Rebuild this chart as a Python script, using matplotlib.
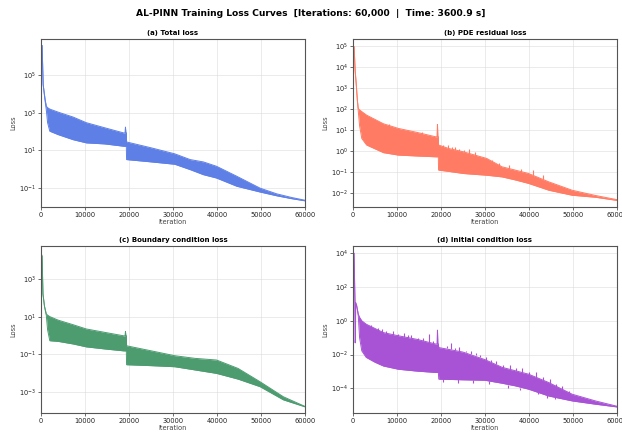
import numpy as np
import matplotlib
matplotlib.use("Agg")
import matplotlib.pyplot as plt
from matplotlib.ticker import NullLocator, FixedLocator

# ---------------------------------------------------------------------------
# Loss history envelopes (iteration, upper / lower bound of the noisy band)
# ---------------------------------------------------------------------------
total_it = [0, 250, 500, 900, 1200, 1500, 2000, 3900, 7300, 10300, 14500, 18800,
            19100, 19200, 19300, 19400, 19450, 25100, 30400, 33900, 36900, 39900,
            44500, 49800, 53600, 57000, 60000]
total_hi = [1.5e6, 4.0e6, 3.2e4, 6.0e3, 2.3e3, 1.9e3, 1.6e3, 1.1e3, 6.0e2, 3.0e2,
            1.6e2, 8.5e1, 8.5e1, 1.75e2, 8.5e1, 8.5e1, 2.8e1, 1.35e1, 6.5e0,
            3.2e0, 2.4e0, 1.4e0, 4.1e-1, 9.5e-2, 4.7e-2, 3.0e-2, 2.15e-2]
total_lo = [1.5e6, 4.0e6, 3.2e4, 5.0e3, 1.5e3, 3.0e2, 1.05e2, 6.9e1, 3.7e1, 2.5e1,
            2.2e1, 1.65e1, 1.65e1, 1.65e1, 1.65e1, 1.65e1, 3.2e0, 2.4e0, 1.8e0,
            9.3e-1, 5.0e-1, 3.3e-1, 1.2e-1, 5.9e-2, 3.7e-2, 2.6e-2, 2.0e-2]

pde_it = [0, 250, 500, 700, 1000, 1200, 1500, 2000, 3100, 6900, 10300, 14500,
          18800, 19100, 19200, 19300, 19400, 19450, 21700, 25100, 30400, 33900,
          36900, 39900, 44500, 49800, 55100, 60000]
pde_hi = [3.0e4, 9.0e4, 6.3e3, 1.95e3, 2.5e2, 1.07e2, 9.0e1, 7.5e1, 5.1e1, 2.0e1,
          1.2e1, 7.8e0, 4.8e0, 4.8e0, 1.85e1, 4.8e0, 4.8e0, 1.95e0, 1.35e0,
          9.3e-1, 4.5e-1, 1.8e-1, 1.26e-1, 8.7e-2, 3.5e-2, 1.4e-2, 7.9e-3, 5.0e-3]
pde_lo = [3.0e4, 9.0e4, 6.3e3, 1.95e3, 2.5e2, 8.0e1, 1.6e1, 4.0e0, 1.95e0, 8.5e-1,
          6.5e-1, 5.9e-1, 5.4e-1, 5.4e-1, 5.4e-1, 5.4e-1, 5.4e-1, 1.26e-1, 1.1e-1,
          8.7e-2, 7.2e-2, 6.0e-2, 4.3e-2, 2.95e-2, 1.4e-2, 8.1e-3, 6.5e-3, 4.6e-3]
pde_spike_it = [8200, 15600, 20500, 21600, 22600, 23300, 24200, 25300, 26400,
                27800, 29500, 31600, 33200, 35400, 38300, 41000, 43200]
pde_spike_base = [1.4e1, 6.5e0, 1.5e0, 1.3e0, 1.2e0, 1.1e0, 1.0e0, 9.0e-1,
                  7.5e-1, 6.0e-1, 4.3e-1, 3.0e-1, 2.0e-1, 1.4e-1, 1.0e-1,
                  7.0e-2, 5.0e-2]
pde_spike_top = [1.9e1, 8.5e0, 2.0e0, 1.9e0, 1.5e0, 1.6e0, 1.3e0, 1.1e0, 1.2e0,
                 9.0e-1, 5.4e-1, 4.0e-1, 2.8e-1, 2.2e-1, 1.5e-1, 1.26e-1, 7.0e-2]

bc_it = [0, 250, 450, 800, 1200, 1500, 2000, 3900, 7300, 10300, 14500, 18800,
         19100, 19200, 19300, 19400, 19450, 25100, 30400, 35000, 39900, 44800,
         49800, 55100, 60000]
bc_hi = [2.5e4, 1.6e4, 1.6e2, 3.5e1, 1.38e1, 1.2e1, 1.0e1, 6.5e0, 3.7e0, 2.2e0,
         1.45e0, 9.5e-1, 9.5e-1, 1.62e0, 9.5e-1, 9.5e-1, 2.8e-1, 1.5e-1, 8.3e-2,
         6.0e-2, 4.9e-2, 1.74e-2, 3.4e-3, 5.4e-4, 1.66e-4]
bc_lo = [2.5e4, 1.6e4, 1.6e2, 3.5e1, 1.2e1, 2.0e0, 5.2e-1, 4.8e-1, 3.5e-1, 2.45e-1,
         1.9e-1, 1.5e-1, 1.5e-1, 1.5e-1, 1.5e-1, 1.5e-1, 2.75e-2, 2.45e-2,
         2.15e-2, 1.45e-2, 9.5e-3, 4.7e-3, 1.86e-3, 3.7e-4, 1.58e-4]

ic_it = [0, 230, 350, 450, 520, 560, 600, 840, 1200, 1500, 2000, 3000, 5000, 6900,
         10300, 14500, 18800, 19100, 19200, 19300, 19400, 19500, 25000, 30000,
         33900, 36900, 39900, 44500, 49800, 55100, 60000]
ic_hi = [8.0e3, 1.0e4, 3.2e2, 1.55e1, 5.0e-2, 8.0e-2, 1.2e1, 7.8e0, 2.5e0, 1.6e0,
         1.0e0, 6.3e-1, 3.5e-1, 2.0e-1, 1.3e-1, 8.0e-2, 4.2e-2, 4.2e-2, 2.8e-1,
         4.2e-2, 4.2e-2, 2.6e-2, 1.4e-2, 5.0e-3, 1.75e-3, 1.1e-3, 6.9e-4, 2.2e-4,
         4.5e-5, 1.8e-5, 8.7e-6]
ic_lo = [8.0e3, 1.0e4, 3.2e2, 1.55e1, 5.0e-2, 8.0e-2, 1.2e1, 7.8e0, 2.0e0, 1.0e-1,
         1.66e-2, 6.8e-3, 3.5e-3, 2.1e-3, 1.35e-3, 1.05e-3, 8.7e-4, 8.7e-4, 8.7e-4,
         8.7e-4, 8.7e-4, 3.5e-4, 3.2e-4, 3.0e-4, 2.0e-4, 1.4e-4, 8.9e-5, 3.5e-5,
         1.8e-5, 1.15e-5, 7.9e-6]
# isolated upward bursts above the band
ic_spike_it = [4200, 5600, 6500, 7600, 9000, 10200, 11500, 12400, 13300, 14800,
               16000, 17300, 18200, 21300, 22300, 23100, 24000, 25800, 26900,
               28000, 28800, 30200, 31400, 32500, 34000, 35600, 37000, 38500,
               40100, 41700, 43300, 44800, 46200, 47500, 49000]
ic_spike_base = [4.0e-1, 2.5e-1, 1.8e-1, 1.6e-1, 1.4e-1, 1.2e-1, 1.1e-1, 1.0e-1,
                 9.0e-2, 7.5e-2, 6.5e-2, 5.5e-2, 4.6e-2, 2.3e-2, 2.1e-2, 1.9e-2,
                 1.7e-2, 1.4e-2, 1.1e-2, 9.0e-3, 7.0e-3, 4.8e-3, 3.6e-3, 2.6e-3,
                 1.7e-3, 1.4e-3, 1.1e-3, 9.0e-4, 6.5e-4, 5.0e-4, 3.2e-4, 2.0e-4,
                 1.2e-4, 8.0e-5, 5.0e-5]
ic_spike_top = [5.5e-1, 3.5e-1, 3.2e-1, 2.6e-1, 2.5e-1, 1.6e-1, 1.8e-1, 1.4e-1,
                1.5e-1, 1.0e-1, 1.0e-1, 1.6e-1, 6.5e-2, 3.3e-2, 5.0e-2, 2.6e-2,
                3.0e-2, 1.66e-2, 1.6e-2, 1.3e-2, 1.0e-2, 6.8e-3, 5.0e-3, 4.0e-3,
                2.3e-3, 2.4e-3, 1.5e-3, 1.6e-3, 9.0e-4, 9.0e-4, 4.5e-4, 3.5e-4,
                1.7e-4, 1.3e-4, 6.5e-5]
# downward dips below the band
ic_dip_it = [20500, 23800, 27300, 31000, 35200, 38000, 42100, 44100, 46000]
ic_dip_base = [3.5e-4, 3.4e-4, 3.1e-4, 2.8e-4, 1.6e-4, 1.1e-4, 6.0e-5, 3.8e-5,
               3.0e-5]
ic_dip_bottom = [2.3e-4, 2.2e-4, 2.1e-4, 1.7e-4, 1.1e-4, 7.5e-5, 4.5e-5, 2.8e-5,
                 2.4e-5]

x_ticks = [0, 10000, 20000, 30000, 40000, 50000, 60000]

panels = [
    dict(title="(a) Total loss", it=total_it, hi=total_hi, lo=total_lo,
         color="#5D7FE6", ylim=(10 ** -2.03, 10 ** 6.95),
         yticks=[1e-1, 1e1, 1e3, 1e5], spikes=[],
         rect=[0.0659, 0.5208, 0.4244, 0.3889]),
    dict(title="(b) PDE residual loss", it=pde_it, hi=pde_hi, lo=pde_lo,
         color="#FF7B64", ylim=(10 ** -2.65, 10 ** 5.32),
         yticks=[1e-2, 1e-1, 1e0, 1e1, 1e2, 1e3, 1e4, 1e5],
         spikes=[(pde_spike_it, pde_spike_base, pde_spike_top)],
         rect=[0.5675, 0.5208, 0.4244, 0.3889]),
    dict(title="(c) Boundary condition loss", it=bc_it, hi=bc_hi, lo=bc_lo,
         color="#4D9C70", ylim=(10 ** -4.13, 10 ** 4.76),
         yticks=[1e-3, 1e-1, 1e1, 1e3], spikes=[],
         rect=[0.0659, 0.0440, 0.4244, 0.3866]),
    dict(title="(d) Initial condition loss", it=ic_it, hi=ic_hi, lo=ic_lo,
         color="#A853D5", ylim=(10 ** -5.46, 10 ** 4.43),
         yticks=[1e-4, 1e-2, 1e0, 1e2, 1e4],
         spikes=[(ic_spike_it, ic_spike_base, ic_spike_top),
                 (ic_dip_it, ic_dip_bottom, ic_dip_base)],
         rect=[0.5675, 0.0440, 0.4244, 0.3866]),
]

fig = plt.figure(figsize=(6.22, 4.32), dpi=100)
fig.text(0.5, 0.969,
         "AL-PINN Training Loss Curves  [Iterations: 60,000  |  Time: 3600.9 s]",
         ha="center", va="center", fontsize=6.6, fontweight="bold")

for p in panels:
    ax = fig.add_axes(p["rect"])
    ax.set_yscale("log")
    ax.fill_between(p["it"], p["lo"], p["hi"], color=p["color"], linewidth=0)
    ax.plot(p["it"], p["hi"], color=p["color"], lw=0.7)
    ax.plot(p["it"], p["lo"], color=p["color"], lw=0.7)
    for s_it, s_lo, s_hi in p["spikes"]:
        ax.vlines(s_it, s_lo, s_hi, color=p["color"], lw=0.8)
    ax.set_xlim(0, 60000)
    ax.set_ylim(*p["ylim"])
    ax.xaxis.set_major_locator(FixedLocator(x_ticks))
    ax.yaxis.set_major_locator(FixedLocator(p["yticks"]))
    ax.yaxis.set_minor_locator(NullLocator())
    ax.grid(True, color="#d8d8d8", lw=0.5, alpha=0.7)
    ax.set_axisbelow(True)
    for s in ax.spines.values():
        s.set_color("#555555")
        s.set_linewidth(0.8)
    ax.tick_params(labelsize=4.8, length=2, width=0.5, pad=1.5,
                   colors="#333333", labelcolor="#222222")
    ax.set_title(p["title"], fontsize=5.0, fontweight="bold", pad=3)
    ax.set_xlabel("Iteration", fontsize=4.8, labelpad=1, color="#444444")
    ax.set_ylabel("Loss", fontsize=4.8, labelpad=2, color="#444444")

fig.savefig("out.png", dpi=100)
